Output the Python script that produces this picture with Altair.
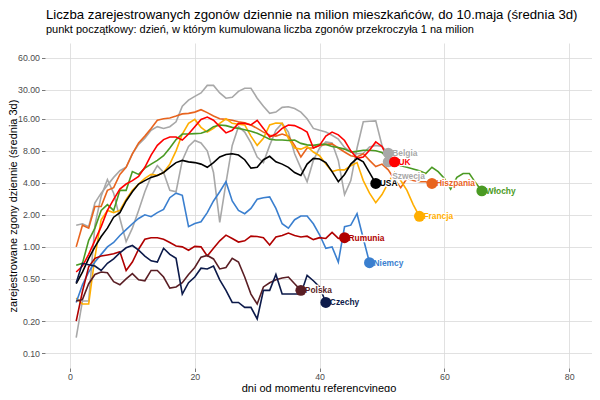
import altair as alt
import pandas as pd

countries = ["Belgia", "Szwecja", "Hiszpania", "Francja", "Włochy", "UK", "USA",
             "Niemcy", "Rumunia", "Polska", "Czechy"]
colors = ["#A8A8A8", "#A8A8A8", "#E8641E", "#FFAE00", "#4A9A23", "#FF0000", "#000000",
          "#3A7FCF", "#B00000", "#5A1E24", "#0C1A4A"]

belgia = [1.6, 1.65, 1.55, 2.6, 3.2, 3.8, 4.5, 5.2, 5.6, 7.5, 9.2, 10.5, 12.5, 13.5, 13, 13.5, 15,
          21, 24, 26, 28, 33, 33, 28, 25, 25.5, 29, 31, 31, 25, 21, 18, 18.5, 20.5, 20.8, 20,
          18.5, 16, 13, 12.5, 12, 11.2, 10.3, 8.6, 7.8, 7.5, 7.6, 8.7, 9.0, 8.8, 7.6]
szwecja = [0.14, 0.31, 0.31, 1.6, 3.0, 4.3, 3.2, 1.85, 1.12, 1.5, 2.2, 3.3, 4.6, 5.8, 5.0, 3.4,
           3.3, 6.5, 8.8, 10, 9.5, 8, 5, 1.7, 4, 9, 13.5, 12, 9.5, 7, 6.2, 9, 12.5, 14.5, 12,
           7.5, 5.5, 4.1, 6.5, 8.5, 9.7, 9.5, 6.5, 3.1, 4.2, 8.5, 15, 15.2, 15.3, 9, 6.3]
hiszpania = [1.0, 1.6, 1.5, 2.4, 2.4, 3.4, 3.6, 4.8, 5.6, 7.5, 9.5, 11, 13, 15.5, 16, 16.3, 17,
             17.8, 18, 18.5, 19.5, 18.3, 17, 16, 15.8, 15.5, 15, 14.7, 14, 13, 12, 11.2, 11,
             11.5, 11, 9, 7, 8.5, 8.5, 9, 9.2, 9.3, 8.5, 7.8, 7.2, 7.0, 7.5, 6.5, 5.7, 6.0, 5.3,
             4.3, 3.6, 4.4, 4.2, 4.1, 4.1, 3.95]
francja = [0.33, 0.29, 0.29, 0.8, 1.8, 2.2, 2.1, 2.2, 2.8, 3.4, 3.9, 4.4, 4.8, 4.7, 5.0, 6.0,
           8.0, 11.5, 14.5, 15.8, 13.3, 12.0, 13.0, 14.5, 16.0, 14.5, 14.2, 14.0, 11.0, 9.0,
           10.5, 14.0, 14.6, 14.5, 10.5, 8.5, 8.3, 8.8, 7.8, 7.2, 6.0, 5.1, 5.3, 5.3, 5.8, 6.2,
           4.2, 3.2, 2.6, 3.1, 4.0, 5.0, 4.2, 3.4, 2.5, 1.94]
wlochy = [0.67, 0.70, 1.15, 1.5, 2.2, 2.5, 2.2, 3.4, 3.4, 5.1, 4.8, 5.5, 6.0, 6.5, 7.2, 8.5,
          10.2, 11.5, 11.5, 11.6, 11.7, 12.3, 13.5, 14.0, 13.8, 13.3, 13.0, 12.6, 12.2, 11.7,
          11.0, 10.3, 10.1, 10.1, 10.0, 10.1, 9.4, 9.1, 9.0, 9.2, 9.2, 8.8, 8.6, 8.3, 7.8, 7.9,
          8.1, 8.1, 8.0, 7.7, 6.8, 6.2, 5.8, 5.6, 5.4, 5.2, 4.9, 5.6, 5.1, 4.4, 3.5, 4.5, 4.9,
          4.9, 4.0, 3.36]
uk = [0.58, 0.66, 0.85, 1.15, 1.55, 2.2, 2.8, 3.5, 3.9, 4.2, 4.6, 5.6, 7.3, 9.0, 10.2, 10.8,
      10.8, 10.1, 11.5, 13.5, 15.8, 16.6, 15.5, 13.5, 11.8, 12.5, 14.5, 14.5, 14, 15.5, 13,
      10.8, 11.5, 13, 14, 13.8, 13, 12, 8.5, 9.0, 11, 12, 11.3, 10, 8, 6.8, 7, 8.1, 9.7, 8.8,
      6.8, 6.3]
usa = [0.45, 0.58, 0.78, 1.0, 1.25, 1.5, 1.9, 2.1, 2.7, 3.3, 3.9, 4.2, 4.5, 4.7, 5.0, 5.6, 6.2,
       6.5, 6.3, 6.2, 6.0, 5.6, 6.2, 7.0, 7.4, 7.5, 7.3, 6.6, 5.5, 5.6, 6.6, 7.1, 6.3, 6.0, 5.6,
       5.0, 4.7, 6.0, 6.8, 6.7, 6.2, 5.1, 4.1, 4.8, 6.0, 6.8, 6.3, 5.0, 3.95]
niemcy = [0.30, 0.44, 0.58, 0.72, 0.85, 1.0, 1.1, 1.28, 1.45, 1.65, 1.85, 2.0, 1.92, 2.1, 2.25,
          2.9, 3.2, 3.05, 1.55, 1.66, 1.72, 2.1, 2.7, 3.3, 4.1, 2.7, 2.2, 2.05, 2.3, 2.8, 2.9,
          2.95, 2.3, 1.65, 1.5, 1.8, 1.95, 1.95, 1.65, 1.3, 0.97, 1.0, 0.72, 1.55, 1.6, 2.05,
          1.2, 0.71]
rumunia = [0.2, 0.38, 0.65, 0.78, 0.82, 0.84, 0.86, 0.9, 0.6, 0.72, 0.95, 1.18, 1.22, 1.22,
           1.18, 1.1, 1.02, 1.0, 0.93, 1.01, 1.0, 0.82, 0.97, 1.14, 1.29, 1.2, 1.11, 1.14, 1.26,
           1.25, 1.22, 1.04, 1.24, 1.28, 1.35, 1.28, 1.24, 1.26, 1.17, 1.22, 1.2, 1.37, 1.2, 1.22]
polska = [0.31, 0.32, 0.45, 0.55, 0.58, 0.57, 0.47, 0.44, 0.5, 0.56, 0.49, 0.48, 0.6, 0.6, 0.52,
          0.41, 0.42, 0.46, 0.55, 0.64, 0.8, 0.83, 0.77, 0.62, 0.64, 0.78, 0.72, 0.52, 0.36,
          0.29, 0.42, 0.46, 0.49, 0.51, 0.52, 0.45, 0.39]
czechy = [0.46, 0.7, 0.68, 0.66, 0.6, 0.7, 0.77, 0.88, 0.98, 1.03, 0.93, 0.82, 0.74, 0.72, 0.97,
          0.85, 0.78, 0.36, 0.46, 0.52, 0.63, 0.62, 0.66, 0.49, 0.39, 0.30, 0.30, 0.27, 0.27,
          0.21, 0.39, 0.39, 0.55, 0.36, 0.36, 0.36, 0.36, 0.54, 0.48, 0.42, 0.30]

series = [belgia, szwecja, hiszpania, francja, wlochy, uk, usa, niemcy, rumunia, polska, czechy]

y_ticks = [0.1, 0.2, 0.5, 1, 2, 4, 8, 16, 30, 60]
x_ticks = [0, 20, 40, 60, 80]

rows, ends = [], []
for name, vals in zip(countries, series):
    for i, v in enumerate(vals):
        rows.append({"kraj": name, "dzien": i + 1, "v": v})
    ends.append({"kraj": name, "dzien": len(vals), "v": vals[-1]})
df = pd.DataFrame(rows)
df_end = pd.DataFrame(ends)

FONT = "Liberation Sans"
xs = alt.Scale(domain=[-4, 83.65], nice=False, zero=False)
ys = alt.Scale(type="log", domain=[0.0726, 82.6], nice=False)
cs = alt.Scale(domain=countries, range=colors)

x_enc = alt.X("dzien:Q", scale=xs,
              axis=alt.Axis(values=x_ticks, title="dni od momentu referencyjnego",
                            format="d", labelPadding=0.5,
                            titleX=273.5, titleY=20, titleBaseline="middle",
                            titleAlign="center"))
y_enc = alt.Y("v:Q", scale=ys,
              axis=alt.Axis(values=y_ticks, format=".2f",
                            title="zarejestrowane zgony dziennie (średnia 3d)",
                            labelPadding=2, titleX=-32, titleY=162.5, titleAngle=270,
                            titleBaseline="middle", titleAlign="center"))

base = alt.Chart(df).encode(x=x_enc, y=y_enc,
                            color=alt.Color("kraj:N", scale=cs, legend=None))
lines = base.mark_line(strokeWidth=1.6, clip=True).encode(detail="kraj:N")

end_base = alt.Chart(df_end).encode(
    x=alt.X("dzien:Q", scale=xs), y=alt.Y("v:Q", scale=ys),
    color=alt.Color("kraj:N", scale=cs, legend=None), text="kraj:N")

main_lbl = end_base.transform_filter(alt.datum.kraj != "Szwecja")
swe_lbl = end_base.transform_filter(alt.datum.kraj == "Szwecja")

txt_kw = dict(align="left", baseline="middle", fontWeight="bold", fontSize=8.4, font=FONT)
halo1 = main_lbl.mark_text(dx=4, stroke="white", strokeWidth=2.5, **txt_kw)
text1 = main_lbl.mark_text(dx=4, **txt_kw)
halo2 = swe_lbl.mark_text(dx=4, dy=14, stroke="white", strokeWidth=2.5, **txt_kw)
text2 = swe_lbl.mark_text(dx=4, dy=14, **txt_kw)
points = end_base.mark_circle(size=120, opacity=1)

chart = alt.layer(lines, halo1, text1, halo2, text2, points).properties(
    width=547, height=325,
    autosize=alt.AutoSizeParams(type="none"),
    padding={"left": 37, "top": 35, "right": 0, "bottom": 24},
    title=alt.TitleParams(
        text="Liczba zarejestrowanych zgonów dziennie na milion mieszkańców, do 10.maja (średnia 3d)",
        subtitle="punkt początkowy: dzień, w którym kumulowana liczba zgonów przekroczyła 1 na milion",
        anchor="start", frame="group", font=FONT, subtitleFont=FONT,
        fontSize=13.2, subtitleFontSize=11, fontWeight="normal",
        color="black", subtitleColor="black", offset=7, subtitlePadding=2, dx=1),
).configure_view(stroke=None).configure_axis(
    domain=False, grid=True, gridColor="#D9D9D9", gridWidth=0.8,
    tickColor="#555555", tickWidth=0.8, tickSize=3.5,
    labelColor="#4D4D4D", labelFontSize=8.8, labelFont=FONT,
    titleFont=FONT, titleFontSize=11, titleFontWeight="normal", titleColor="black",
)

chart.save("out.html", embed_options={"renderer": "svg", "actions": False})
